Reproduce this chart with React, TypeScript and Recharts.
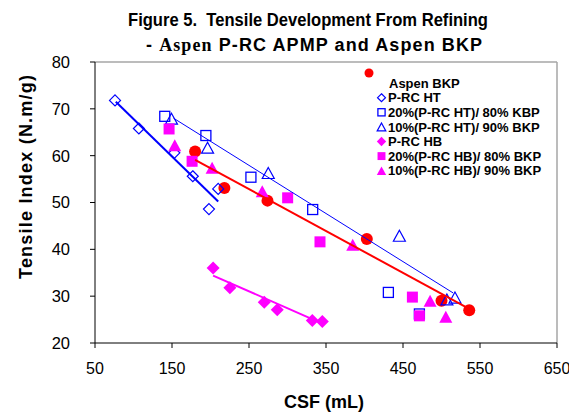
import React from 'react';
import { ScatterChart, Scatter, XAxis, YAxis, ReferenceLine, Legend } from 'recharts';

// ---- data (CSF mL, Tensile Index N.m/g) ----
const bkpCsf = [180, 218, 274, 403, 500, 536];
const bkpTensile = [60.9, 53.1, 50.4, 42.2, 29.0, 27.0];

const htCsf = [76, 107, 153, 177, 210, 198];
const htTensile = [71.8, 65.8, 60.6, 55.6, 52.9, 48.6];

const ht20Csf = [140.6, 194, 252.5, 332.7, 431, 471.3];
const ht20Tensile = [68.4, 64.3, 55.4, 48.5, 30.8, 26.2];

const ht10Csf = [149.3, 196.2, 275, 445.3, 507, 517.5];
const ht10Tensile = [67.9, 61.7, 56.3, 42.9, 29.3, 29.7];

const hbCsf = [203.4, 225.2, 269.8, 286.7, 332.2, 345.2];
const hbTensile = [36.0, 31.8, 28.7, 27.1, 24.8, 24.6];

const hb20Csf = [146.2, 176.1, 300.2, 342.2, 462.2, 471.3];
const hb20Tensile = [65.7, 58.8, 51.0, 41.6, 29.8, 25.8];

const hb10Csf = [153.6, 202.1, 267.2, 384.7, 485.2, 505.6];
const hb10Tensile = [62.2, 57.4, 52.4, 41.0, 29.0, 25.6];

// trend line end points
const htTrendCsf = [77, 210];
const htTrendTensile = [71.5, 50.2];
const htBlendTrendCsf = [152, 515];
const htBlendTrendTensile = [68.0, 30.7];
const bkpTrendCsf = [180, 536];
const bkpTrendTensile = [59.1, 27.3];
const hbTrendCsf = [203.4, 333.5];
const hbTrendTensile = [34.4, 25.0];

const xTicks = [50, 150, 250, 350, 450, 550, 650];
const yTicks = [20, 30, 40, 50, 60, 70, 80];

const seriesNames = [
  'Aspen BKP',
  'P-RC HT',
  '20%(P-RC HT)/ 80% KBP',
  '10%(P-RC HT)/ 90% BKP',
  'P-RC HB',
  '20%(P-RC HB)/ 80% BKP',
  '10%(P-RC HB)/ 90% BKP',
];

const BLUE = '#0000ff';
const MAG = '#ff00ff';
const RED = '#ff0000';
const FONT = '"Liberation Sans", Arial, sans-serif';

const pts = (xs: number[], ys: number[]) => xs.map((x, i) => ({ x, y: ys[i] }));

type Kind = 'circle' | 'diamondOpen' | 'squareOpen' | 'triangleOpen' | 'diamond' | 'square' | 'triangle';

function Marker({ kind, cx, cy, k = 1 }: { kind: Kind; cx: number; cy: number; k?: number }) {
  if (cx == null || cy == null) return <g />;
  switch (kind) {
    case 'circle':
      return <circle cx={cx} cy={cy} r={6 * k} fill={RED} />;
    case 'diamondOpen': {
      const h = 5.5 * k;
      return (
        <polygon
          points={`${cx},${cy - h} ${cx + h},${cy} ${cx},${cy + h} ${cx - h},${cy}`}
          fill="none"
          stroke={BLUE}
          strokeWidth={1.2}
        />
      );
    }
    case 'squareOpen': {
      const h = 5 * k;
      return <rect x={cx - h} y={cy - h} width={2 * h} height={2 * h} fill="none" stroke={BLUE} strokeWidth={1.3} />;
    }
    case 'triangleOpen': {
      const w = 6 * k;
      const hh = 5.5 * k;
      return (
        <polygon
          points={`${cx},${cy - hh} ${cx + w},${cy + hh} ${cx - w},${cy + hh}`}
          fill="none"
          stroke={BLUE}
          strokeWidth={1.2}
        />
      );
    }
    case 'diamond': {
      const h = 6.5 * k;
      return <polygon points={`${cx},${cy - h} ${cx + h},${cy} ${cx},${cy + h} ${cx - h},${cy}`} fill={MAG} />;
    }
    case 'square': {
      const h = 5.5 * k;
      return <rect x={cx - h} y={cy - h} width={2 * h} height={2 * h} fill={MAG} />;
    }
    case 'triangle': {
      const w = 6.5 * k;
      const hh = 6 * k;
      return <polygon points={`${cx},${cy - hh} ${cx + w},${cy + hh} ${cx - w},${cy + hh}`} fill={MAG} />;
    }
  }
  return <g />;
}

const kinds: Kind[] = ['circle', 'diamondOpen', 'squareOpen', 'triangleOpen', 'diamond', 'square', 'triangle'];

function LegendBox() {
  return (
    <svg width={205} height={118} style={{ display: 'block', overflow: 'visible' }}>
      <Marker kind="circle" cx={9} cy={11} k={0.75} />
      <text x={29} y={26} fontFamily={FONT} fontWeight="bold" fontSize={13} fill="#000">
        {seriesNames[0]}
      </text>
      {seriesNames.slice(1).map((name, i) => {
        const cy = 35.7 + i * 14.6;
        return (
          <g key={name}>
            <Marker kind={kinds[i + 1]} cx={21.5} cy={cy} k={0.72} />
            <text x={28} y={cy + 4.6} fontFamily={FONT} fontWeight="bold" fontSize={13} fill="#000">
              {name}
            </text>
          </g>
        );
      })}
    </svg>
  );
}

const shapeOf = (kind: Kind) => (props: any) => <Marker kind={kind} cx={props.cx} cy={props.cy} />;
const noShape = () => <g />;

export default function App() {
  return (
    <div style={{ position: 'absolute', left: 0, top: 0, width: 569, height: 413, background: '#fff' }}>
      <svg
        width={569}
        height={60}
        style={{ position: 'absolute', left: 0, top: 0, pointerEvents: 'none', zIndex: 2 }}
      >
        <text
          x={308}
          y={26}
          textAnchor="middle"
          fontFamily={FONT}
          fontWeight="bold"
          fontSize={18}
          textLength={360}
          lengthAdjust="spacingAndGlyphs"
          fill="#000"
        >
          {'Figure 5.\u00a0 Tensile Development From Refining'}
        </text>
        <text
          x={314}
          y={50.5}
          textAnchor="middle"
          fontFamily={FONT}
          fontWeight="bold"
          fontSize={18}
          textLength={336}
          lengthAdjust="spacing"
          fill="#000"
        >
          {'- '}
          <tspan fontFamily='"Liberation Serif", "Times New Roman", serif'>Aspen</tspan>
          {' P-RC APMP and Aspen BKP'}
        </text>
      </svg>
      <ScatterChart width={569} height={413} margin={{ top: 62, right: 12, left: 0, bottom: 0 }}>
        <XAxis
          type="number"
          dataKey="x"
          domain={[50, 650]}
          ticks={xTicks}
          interval={0}
          allowDataOverflow
          height={70}
          tickSize={5}
          tickMargin={15}
          axisLine={{ stroke: '#000' }}
          tickLine={{ stroke: '#000' }}
          tick={{ fill: '#000', fontSize: 16, fontFamily: FONT }}
          label={{
            content: () => (
              <text x={324} y={408} textAnchor="middle" fontFamily={FONT} fontWeight="bold" fontSize={18} fill="#000">
                CSF (mL)
              </text>
            ),
          }}
        />
        <YAxis
          type="number"
          dataKey="y"
          domain={[20, 80]}
          ticks={yTicks}
          interval={0}
          allowDataOverflow
          width={95}
          tickSize={5}
          tickMargin={20}
          axisLine={{ stroke: '#000' }}
          tickLine={{ stroke: '#000' }}
          tick={{ fill: '#000', fontSize: 16.5, fontFamily: FONT }}
          label={{
            content: () => (
              <text
                x={32}
                y={177}
                transform="rotate(-90 32 177)"
                textAnchor="middle"
                fontFamily={FONT}
                fontWeight="bold"
                fontSize={18}
                textLength={204}
                lengthAdjust="spacing"
                fill="#000"
              >
                Tensile Index (N.m/g)
              </text>
            ),
          }}
        />
        <ReferenceLine y={80} stroke="#a6a6a6" strokeWidth={1.5} />
        <ReferenceLine x={650} stroke="#a6a6a6" strokeWidth={1.5} />
        <Legend
          layout="vertical"
          align="center"
          verticalAlign="middle"
          wrapperStyle={{ position: 'absolute', left: 360, top: 62, width: 205, height: 118 }}
          content={() => <LegendBox />}
        />
        <Scatter name={seriesNames[0]} data={pts(bkpCsf, bkpTensile)} shape={shapeOf('circle')} isAnimationActive={false} />
        <Scatter name={seriesNames[1]} data={pts(htCsf, htTensile)} shape={shapeOf('diamondOpen')} isAnimationActive={false} />
        <Scatter name={seriesNames[2]} data={pts(ht20Csf, ht20Tensile)} shape={shapeOf('squareOpen')} isAnimationActive={false} />
        <Scatter name={seriesNames[3]} data={pts(ht10Csf, ht10Tensile)} shape={shapeOf('triangleOpen')} isAnimationActive={false} />
        <Scatter name={seriesNames[4]} data={pts(hbCsf, hbTensile)} shape={shapeOf('diamond')} isAnimationActive={false} />
        <Scatter name={seriesNames[5]} data={pts(hb20Csf, hb20Tensile)} shape={shapeOf('square')} isAnimationActive={false} />
        <Scatter name={seriesNames[6]} data={pts(hb10Csf, hb10Tensile)} shape={shapeOf('triangle')} isAnimationActive={false} />
        <Scatter
          data={pts(htTrendCsf, htTrendTensile)}
          line={{ stroke: BLUE, strokeWidth: 2 }}
          shape={noShape}
          legendType="none"
          isAnimationActive={false}
        />
        <Scatter
          data={pts(htBlendTrendCsf, htBlendTrendTensile)}
          line={{ stroke: BLUE, strokeWidth: 1 }}
          shape={noShape}
          legendType="none"
          isAnimationActive={false}
        />
        <Scatter
          data={pts(bkpTrendCsf, bkpTrendTensile)}
          line={{ stroke: RED, strokeWidth: 2 }}
          shape={noShape}
          legendType="none"
          isAnimationActive={false}
        />
        <Scatter
          data={pts(hbTrendCsf, hbTrendTensile)}
          line={{ stroke: MAG, strokeWidth: 2 }}
          shape={noShape}
          legendType="none"
          isAnimationActive={false}
        />
      </ScatterChart>
    </div>
  );
}
